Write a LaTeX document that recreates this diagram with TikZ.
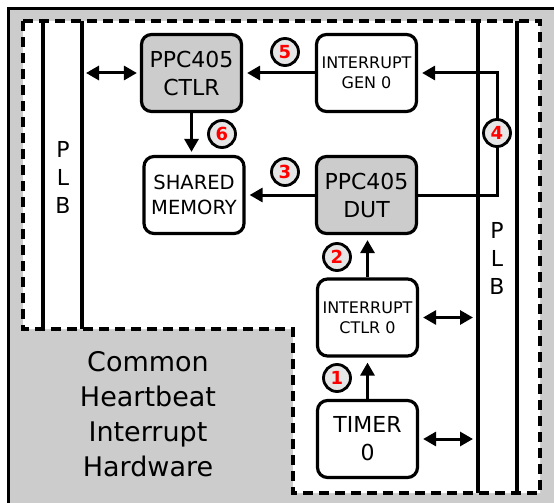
\documentclass[tikz,border=0pt]{standalone}
\usepackage{fontspec}
\setmainfont{DejaVu Sans}
\usetikzlibrary{arrows.meta}
\definecolor{bggray}{HTML}{CCCCCC}
\definecolor{circgray}{HTML}{E6E6E6}
\begin{document}
\begin{tikzpicture}[x=1pt,y=-1pt,
  box/.style={draw, line width=3.2pt, rounded corners=10pt, minimum width=100pt, minimum height=77pt, align=center, inner sep=0pt},
  graybox/.style={box, fill=bggray},
  whitebox/.style={box, fill=white},
  big/.style={font=\fontsize{22}{28}\selectfont},
  small/.style={font=\fontsize{16}{20}\selectfont},
  mid/.style={font=\fontsize{19.5}{24.5}\selectfont},
  tip/.tip={Triangle[length=13pt,width=14pt]},
  conn/.style={line width=3pt, -tip},
  dconn/.style={line width=3pt, tip-tip},
  num/.style={circle, draw, line width=2.8pt, fill=circgray, minimum size=27pt, inner sep=0pt, text=red, font=\fontsize{18}{18}\selectfont\bfseries},
  bus/.style={line width=3.6pt},
  plbtext/.style={font=\fontsize{22}{28}\selectfont, align=center},
  plbbar/.style={minimum width=39pt, inner sep=0pt, outer sep=0pt},
]
\useasboundingbox (0,0) rectangle (554,503);
% background
\fill[bggray] (8,8) rectangle (554,503);
\draw[line width=3.5pt] (8.5,503) -- (8.5,8.5) -- (554,8.5);
% dashed region
\fill[white] (23,21) -- (540,21) -- (540,493) -- (293,493) -- (293,329) -- (23,329) -- cycle;
% PLB bars
\node[plbbar, minimum height=308pt] (plbL) at (62.5,175) {};
\node[plbbar, minimum height=472pt] (plbR) at (497.5,257) {};
\draw[bus] (plbL.north west) -- (plbL.south west);
\draw[bus] (plbL.north east) -- (plbL.south east);
\draw[bus] (plbR.north west) -- (plbR.south west);
\draw[bus] (plbR.north east) -- (plbR.south east);
\draw[line width=3.2pt, dash pattern=on 10pt off 6pt] (23,21) -- (540,21) -- (540,493) -- (293,493) -- (293,329) -- (23,329) -- cycle;
\node[plbtext] (plbLt) at (63,177) {P\\L\\B};
\node[plbtext] (plbRt) at (497,258) {P\\L\\B};
% text
\node[font=\fontsize{27}{35}\selectfont, align=center] (chih) at (148,414) {Common\\Heartbeat\\Interrupt\\Hardware};
% boxes
\node[graybox, big] (ctlr) at (191.5,73) {PPC405\\CTLR};
\node[whitebox, mid] (mem) at (194,195) {SHARED\\MEMORY};
\node[whitebox, small] (gen) at (366.5,73) {INTERRUPT\\GEN 0};
\node[graybox, big] (dut) at (366.5,195) {PPC405\\DUT};
\node[whitebox, small] (ictlr) at (367.5,317.5) {INTERRUPT\\CTLR 0};
\node[whitebox, big] (timer) at (367.5,439) {TIMER\\0};
% number circle position on the feedback line
\coordinate (c4) at (497,133);
% connectors
\draw[conn, shorten >=4pt] (gen.west) -- (ctlr.east);
\draw[conn, shorten >=4pt] (dut.west) -- (mem.east);
\draw[conn, shorten >=4pt] (dut.east) -| (c4) |- (gen.east);
\draw[conn, shorten >=3pt] (ctlr.south) -- (ctlr.south |- mem.north);
\draw[conn, shorten >=5pt] (ictlr.north) -- (ictlr.north |- dut.south);
\draw[conn, shorten >=5pt] (timer.north) -- (ictlr.south);
\draw[dconn, shorten >=4pt, shorten <=3pt] (ctlr.west) -- (ctlr.west -| plbL.east);
\draw[dconn, shorten >=5pt, shorten <=4pt] (ictlr.east) -- (ictlr.east -| plbR.west);
\draw[dconn, shorten >=5pt, shorten <=4pt] (timer.east) -- (timer.east -| plbR.west);
% numbers
\node[num] (n1) at (337,378) {1};
\node[num] (n2) at (337,257) {2};
\node[num] (n3) at (285,172) {3};
\node[num] (n4) at (c4) {4};
\node[num] (n5) at (285,52) {5};
\node[num] (n6) at (222,134) {6};
\end{tikzpicture}
\end{document}
